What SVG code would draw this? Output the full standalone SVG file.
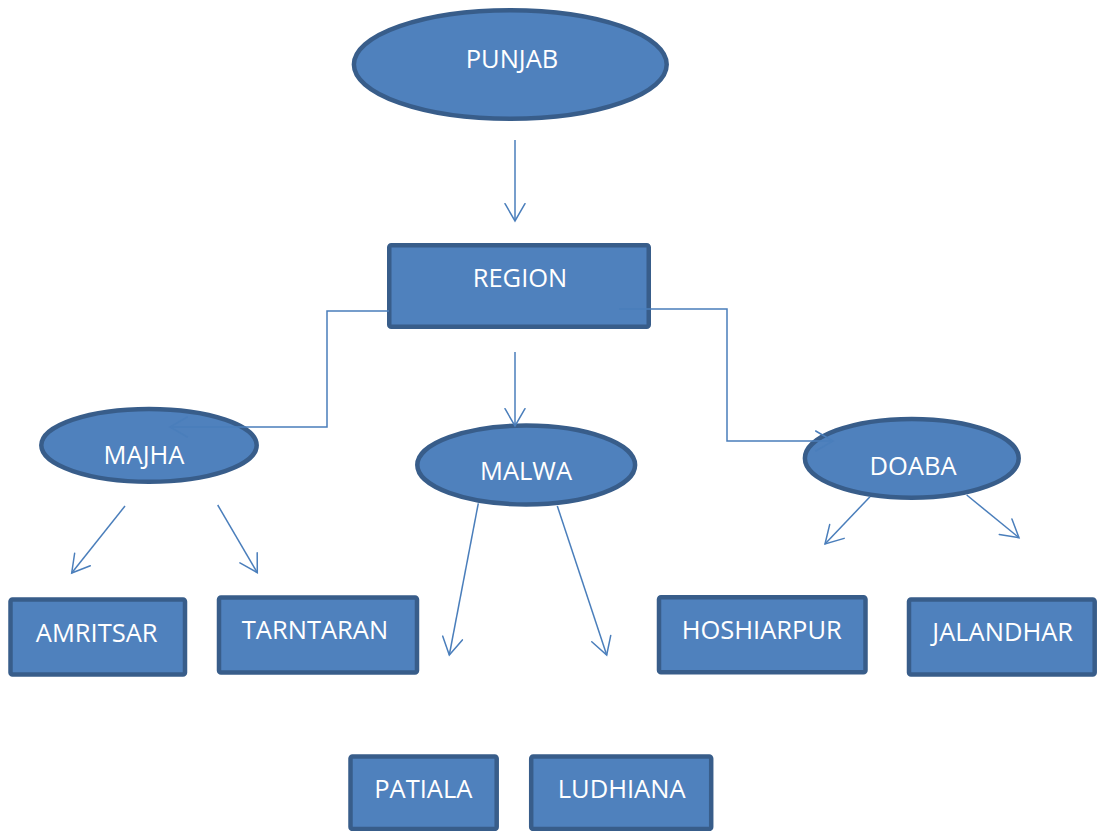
<svg xmlns="http://www.w3.org/2000/svg" width="1097" height="831" viewBox="0 0 1097 831">
<defs>
<style>
.shape{fill:#4F81BD;stroke:#385D8A;stroke-width:4.5}
.lbl{fill:#FFFFFF;font-family:"Open Sans","Liberation Sans",sans-serif;font-size:25.5px;text-anchor:middle}
.conn{fill:none;stroke:#4A7EBB;stroke-width:1.5}
</style>
<marker id="arr" markerUnits="userSpaceOnUse" markerWidth="22" markerHeight="26" viewBox="0 0 22 26" refX="19" refY="13" orient="auto">
<path d="M1.7,3 L19,13 L1.7,23" fill="none" stroke="#4A7EBB" stroke-width="1.5" stroke-linecap="round" stroke-linejoin="miter"/>
</marker>
</defs>
<rect width="1097" height="831" fill="#FFFFFF"/>
<g id="punjab"><ellipse class="shape" cx="510.3" cy="64.5" rx="156.4" ry="54.3"/><text class="lbl" x="512" y="68">PUNJAB</text></g>
<g id="region"><rect class="shape" x="389.25" y="245.25" width="259.5" height="81.5" rx="2"/><text class="lbl" x="520" y="287">REGION</text></g>
<g id="majha"><ellipse class="shape" cx="149" cy="445.3" rx="107.7" ry="36.4"/><text class="lbl" x="144" y="464">MAJHA</text></g>
<g id="malwa"><ellipse class="shape" cx="526.2" cy="465" rx="108.9" ry="39.4"/><text class="lbl" x="526" y="480">MALWA</text></g>
<g id="doaba"><ellipse class="shape" cx="911.8" cy="458.3" rx="106.9" ry="39.4"/><text class="lbl" x="913" y="475">DOABA</text></g>
<g id="amritsar"><rect class="shape" x="10.5" y="599.5" width="174.5" height="75" rx="2"/><text class="lbl" x="96.7" y="641.7">AMRITSAR</text></g>
<g id="tarntaran"><rect class="shape" x="219" y="597.5" width="198" height="75" rx="2"/><text class="lbl" x="315" y="639">TARNTARAN</text></g>
<g id="hoshiarpur"><rect class="shape" x="659" y="597.2" width="206.5" height="75" rx="2"/><text class="lbl" x="761.7" y="639">HOSHIARPUR</text></g>
<g id="jalandhar"><rect class="shape" x="909" y="599.5" width="185.7" height="75" rx="2"/><text class="lbl" x="1002.7" y="640.7">JALANDHAR</text></g>
<g id="patiala"><rect class="shape" x="350.5" y="756.5" width="146.2" height="72.5" rx="2"/><text class="lbl" x="423.3" y="798.3">PATIALA</text></g>
<g id="ludhiana"><rect class="shape" x="531.2" y="756.5" width="180" height="72.5" rx="2"/><text class="lbl" x="621.7" y="798.3">LUDHIANA</text></g>
<g id="connectors">
<path class="conn" marker-end="url(#arr)" d="M515,140 L515,221"/>
<path class="conn" marker-end="url(#arr)" d="M389,311 L327,311 L327,427 L170,427"/>
<path class="conn" marker-end="url(#arr)" d="M515,352 L515,426"/>
<path class="conn" marker-end="url(#arr)" d="M619,309 L727,309 L727,441 L833,441"/>
<path class="conn" marker-end="url(#arr)" d="M125,506 L71.7,573"/>
<path class="conn" marker-end="url(#arr)" d="M217.7,505 L257.3,572.7"/>
<path class="conn" marker-end="url(#arr)" d="M478.3,503.3 L449.3,655"/>
<path class="conn" marker-end="url(#arr)" d="M557.3,506 L606.7,655"/>
<path class="conn" marker-end="url(#arr)" d="M870,496.7 L825,544"/>
<path class="conn" marker-end="url(#arr)" d="M966.7,495 L1019,537.7"/>
</g>
</svg>
